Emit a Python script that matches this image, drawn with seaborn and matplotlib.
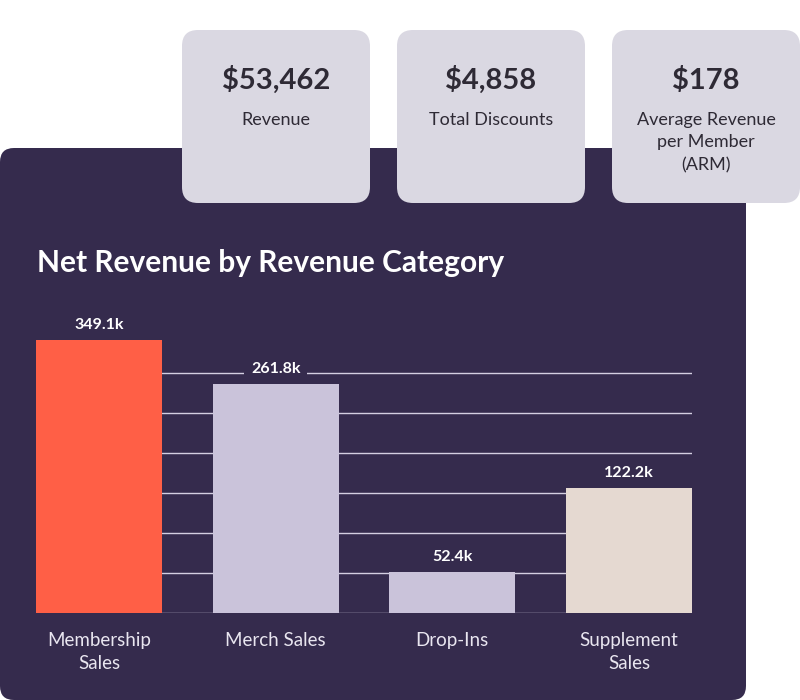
import numpy as np
import pandas as pd
import matplotlib
matplotlib.use("Agg")
import matplotlib.pyplot as plt
from matplotlib.patches import FancyBboxPatch
import seaborn as sns

# KPI cards
kpi_values = ["$53,462", "$4,858", "$178"]
kpi_labels = ["Revenue", "Total Discounts", "Average Revenue\nper Member\n(ARM)"]

# Bar chart data
categories = ["Membership Sales", "Merch Sales", "Drop-Ins", "Supplement Sales"]
tick_labels = ["Membership\nSales", "Merch Sales", "Drop-Ins", "Supplement\nSales"]
net_revenue_k = [349.1, 261.8, 52.4, 122.2]
# bar heights as drawn in the picture (same grid units as the labels)
bar_height_k = [349.1, 292.8, 52.4, 159.8]

panel_color = "#352b4d"
card_color = "#dad8e2"
card_text = "#2e2a35"
bar_colors = {"Membership Sales": "#ff5f46", "Merch Sales": "#cac3da",
              "Drop-Ins": "#cac3da", "Supplement Sales": "#e5d9d1"}

sns.set_style("white")
plt.rcParams["font.family"] = ["Lato", "DejaVu Sans"]

fig = plt.figure(figsize=(8, 7), dpi=100)

# background layer in pixel coordinates
bg = fig.add_axes([0, 0, 1, 1])
bg.set_xlim(0, 800)
bg.set_ylim(700, 0)
bg.axis("off")

bg.add_patch(FancyBboxPatch((0, 148), 746, 552, boxstyle="round,pad=0,rounding_size=14",
                            facecolor=panel_color, edgecolor="none"))

card_x = [182, 397, 612]
for x, val, lab in zip(card_x, kpi_values, kpi_labels):
    bg.add_patch(FancyBboxPatch((x, 30), 188, 173, boxstyle="round,pad=0,rounding_size=16",
                                facecolor=card_color, edgecolor="none"))
    bg.text(x + 94, 80, val, ha="center", va="center", fontsize=21,
            fontweight="bold", color=card_text)
    bg.text(x + 94, 112, lab, ha="center", va="top", fontsize=13,
            color=card_text, linespacing=1.5)

bg.text(37, 263, "Net Revenue by Revenue Category", ha="left", va="center",
        fontsize=21.5, fontweight="bold", color="white")

# chart axes: 36..692 px wide, bottom at 613 px
px_per_k = 273 / 349.1
ax_h = 313
ax = fig.add_axes([36 / 800, (700 - 613) / 700, 656 / 800, ax_h / 700])
ax.set_facecolor("none")

df = pd.DataFrame({"category": categories, "height": bar_height_k})
sns.barplot(data=df, x="category", y="height", hue="category", palette=bar_colors,
            order=categories, width=0.712, legend=False, ax=ax, saturation=1,
            linewidth=0, edgecolor="none")

grid_step = 40 / px_per_k
ax.set_ylim(0, ax_h / px_per_k)
ax.set_xlim(-0.356, 3.356)
ax.set_yticks(np.arange(0, 7) * grid_step)
ax.set_yticklabels([])
ax.yaxis.grid(True, color="#d4cfe2", linewidth=1)
ax.set_axisbelow(True)
for s in ax.spines.values():
    s.set_visible(False)
ax.tick_params(axis="both", length=0)
ax.set_xticks(range(len(categories)))
ax.set_xticklabels(tick_labels, fontsize=13.5, color="#e9e6f0", linespacing=1.4)
ax.tick_params(axis="x", pad=14)
ax.set_xlabel("")
ax.set_ylabel("")

for i, (h, v) in enumerate(zip(bar_height_k, net_revenue_k)):
    ax.annotate(f"{v}k", (i, h), xytext=(0, 11), textcoords="offset points",
                ha="center", va="center", fontsize=11.5, fontweight="bold",
                color="white",
                bbox=dict(boxstyle="square,pad=0.4", facecolor=panel_color, edgecolor="none"))

fig.savefig("out.png", dpi=100)
